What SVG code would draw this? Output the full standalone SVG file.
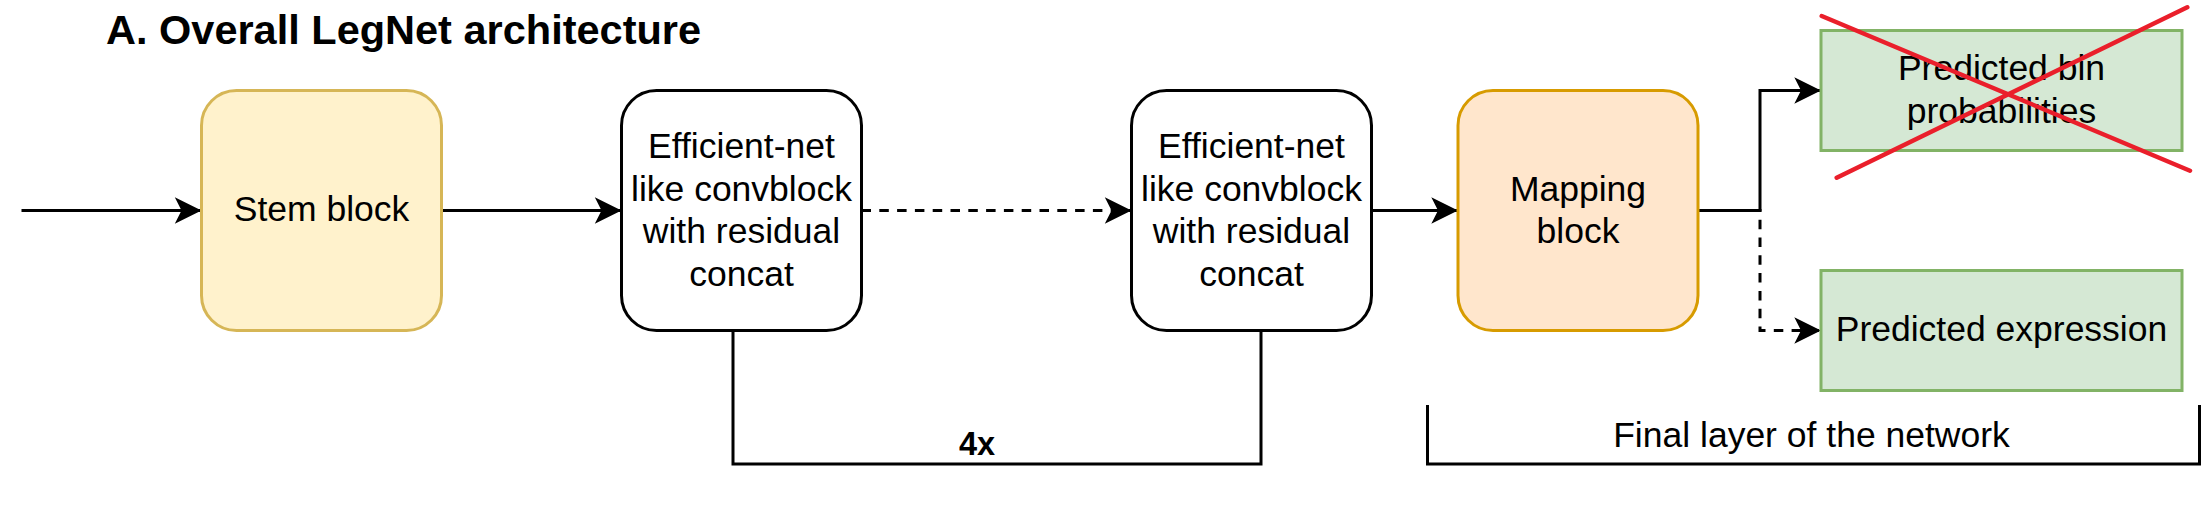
<svg xmlns="http://www.w3.org/2000/svg" width="2207" height="519" viewBox="0 0 2207 519">
<style>
  text { font-family: "Liberation Sans", Arial, sans-serif; fill: #000; }
  .lbl { font-size: 35.5px; text-anchor: middle; }
  .title { font-size: 41.5px; font-weight: bold; }
  .bold { font-size: 32.5px; font-weight: bold; text-anchor: middle; }
  .edge { fill: none; stroke: #000; stroke-width: 3; }
  .dash { stroke-dasharray: 9.5 8.3; }
  .box { stroke-width: 3; }
  .cross { stroke: #ea1f2b; stroke-width: 4.5; stroke-linecap: round; fill: none; }
</style>
<defs>
  <marker id="arrow" markerUnits="userSpaceOnUse" viewBox="-28 -15 30 30" markerWidth="30" markerHeight="30" refX="0" refY="0" orient="auto" overflow="visible">
    <path d="M0,0 L-26.7,-13.3 L-20,0 L-26.7,13.3 Z" fill="#000"/>
  </marker>
</defs>
<rect width="2207" height="519" fill="#fff"/>

<g id="title">
  <text class="title" x="106" y="44">A. Overall LegNet architecture</text>
</g>

<g id="connectors">
  <path class="edge" d="M21.5,210.5 H201.5" marker-end="url(#arrow)"/>
  <path class="edge" d="M441.5,210.5 H621.5" marker-end="url(#arrow)"/>
  <path class="edge dash" d="M861.5,210.5 H1131.5" marker-end="url(#arrow)"/>
  <path class="edge" d="M1371.5,210.5 H1458" marker-end="url(#arrow)"/>
  <path class="edge dash" d="M1698,210.5 H1760 V330.5 H1821" marker-end="url(#arrow)"/>
  <path class="edge" d="M1698,210.5 H1760 V90.5 H1821" marker-end="url(#arrow)"/>
  <path class="edge" d="M733,330.5 V464 H1261 V330.5"/>
  <path class="edge" d="M1427.5,405 V464 H2199.5 V405"/>
</g>

<g id="stem">
  <rect class="box" x="201.5" y="90.5" width="240" height="240" rx="35" ry="35" fill="#fff2cc" stroke="#d6b656"/>
  <text class="lbl" x="321.5" y="221">Stem block</text>
</g>

<g id="conv1">
  <rect class="box" x="621.5" y="90.5" width="240" height="240" rx="35" ry="35" fill="#fff" stroke="#000"/>
  <text class="lbl" x="741.5" y="158">Efficient-net</text>
  <text class="lbl" x="741.5" y="200.5">like convblock</text>
  <text class="lbl" x="741.5" y="243">with residual</text>
  <text class="lbl" x="741.5" y="285.5">concat</text>
</g>

<g id="conv2">
  <rect class="box" x="1131.5" y="90.5" width="240" height="240" rx="35" ry="35" fill="#fff" stroke="#000"/>
  <text class="lbl" x="1251.5" y="158">Efficient-net</text>
  <text class="lbl" x="1251.5" y="200.5">like convblock</text>
  <text class="lbl" x="1251.5" y="243">with residual</text>
  <text class="lbl" x="1251.5" y="285.5">concat</text>
</g>

<g id="mapping">
  <rect class="box" x="1458" y="90.5" width="240" height="240" rx="35" ry="35" fill="#ffe6cc" stroke="#d79b00"/>
  <text class="lbl" x="1578" y="200.5">Mapping</text>
  <text class="lbl" x="1578" y="243">block</text>
</g>

<g id="bin-probabilities">
  <rect class="box" x="1821" y="30.5" width="361" height="120" fill="#d5e8d4" stroke="#82b366"/>
  <text class="lbl" x="2001.5" y="80">Predicted bin</text>
  <text class="lbl" x="2001.5" y="123">probabilities</text>
  <path class="cross" d="M1821.7,16 L2190,170.7 M1836.7,177.7 L2187.3,7.3"/>
</g>

<g id="expression">
  <rect class="box" x="1821" y="270.5" width="361" height="120" fill="#d5e8d4" stroke="#82b366"/>
  <text class="lbl" x="2001.5" y="341">Predicted expression</text>
</g>

<g id="repeat-label">
  <text class="bold" x="977" y="455">4x</text>
</g>

<g id="final-layer-label">
  <text class="lbl" x="1811.5" y="447">Final layer of the network</text>
</g>
</svg>
